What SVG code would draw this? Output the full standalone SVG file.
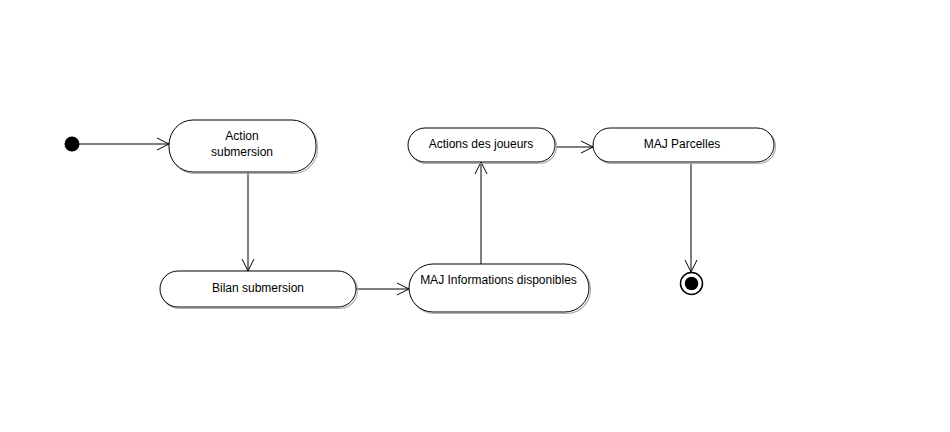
<svg xmlns="http://www.w3.org/2000/svg" width="950" height="432" viewBox="0 0 950 432">
<defs>
<style>
.sh{fill:none;stroke:#b0b0b0;stroke-width:1.2}
.nd{fill:#fff;stroke:#000;stroke-width:1}
.t{font-family:"Liberation Sans",Arial,sans-serif;font-size:12px;fill:#000;text-anchor:middle}
.c{fill:none;stroke:#000;stroke-width:1}
</style>
<marker id="ar" markerWidth="14" markerHeight="14" refX="12" refY="7" orient="auto" markerUnits="userSpaceOnUse">
<path d="M0,1 L12,7 L0,13" fill="none" stroke="#000" stroke-width="1"/>
</marker>
</defs>
<rect width="950" height="432" fill="#fff"/>
<g id="connectors">
<line class="c" x1="79" y1="144" x2="169" y2="144" marker-end="url(#ar)"/>
<line class="c" x1="248" y1="172" x2="248" y2="271" marker-end="url(#ar)"/>
<line class="c" x1="356" y1="289" x2="409" y2="289" marker-end="url(#ar)"/>
<line class="c" x1="481" y1="264" x2="481" y2="162" marker-end="url(#ar)"/>
<line class="c" x1="556" y1="147" x2="593" y2="147" marker-end="url(#ar)"/>
<line class="c" x1="691" y1="163" x2="691" y2="272" marker-end="url(#ar)"/>
</g>
<g id="start">
<circle cx="72" cy="144" r="7.5" fill="#000"/>
</g>
<g id="action-submersion">
<rect class="sh" x="170.5" y="121.5" width="147" height="52" rx="24" ry="25"/>
<rect class="nd" x="169" y="120" width="147" height="52" rx="24" ry="25"/>
<text class="t" x="242" y="140">Action</text>
<text class="t" x="242" y="156">submersion</text>
</g>
<g id="bilan-submersion">
<rect class="sh" x="161.5" y="272.5" width="196" height="36" rx="18" ry="18"/>
<rect class="nd" x="160" y="271" width="196" height="36" rx="18" ry="18"/>
<text class="t" x="258" y="292">Bilan submersion</text>
</g>
<g id="maj-informations">
<rect class="sh" x="410.5" y="265.5" width="180" height="48" rx="24" ry="24"/>
<rect class="nd" x="409" y="264" width="180" height="48" rx="24" ry="24"/>
<text class="t" x="498.5" y="284">MAJ Informations disponibles</text>
</g>
<g id="actions-joueurs">
<rect class="sh" x="409.5" y="129.5" width="147" height="34" rx="17" ry="17"/>
<rect class="nd" x="408" y="128" width="147" height="34" rx="17" ry="17"/>
<text class="t" x="481" y="148">Actions des joueurs</text>
</g>
<g id="maj-parcelles">
<rect class="sh" x="594.5" y="129.5" width="181" height="34" rx="17" ry="17"/>
<rect class="nd" x="593" y="128" width="181" height="34" rx="17" ry="17"/>
<text class="t" x="682" y="148">MAJ Parcelles</text>
</g>
<g id="end">
<circle cx="691.5" cy="283.5" r="11" fill="#fff" stroke="#000" stroke-width="1.5"/>
<circle cx="691.5" cy="283.5" r="6.8" fill="#000"/>
</g>
</svg>
